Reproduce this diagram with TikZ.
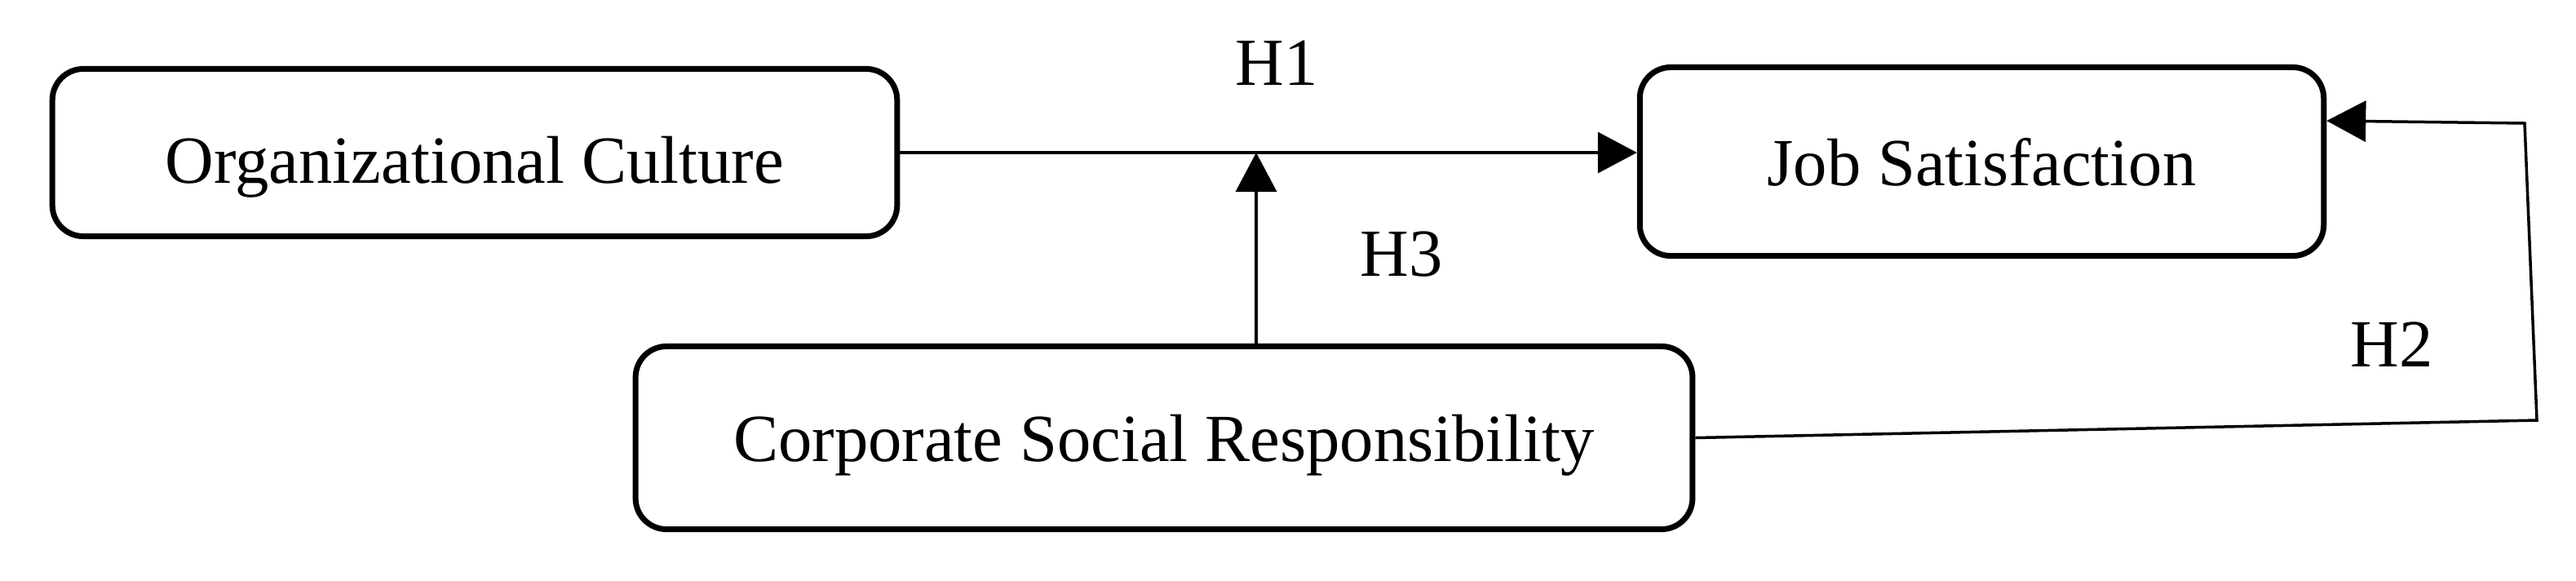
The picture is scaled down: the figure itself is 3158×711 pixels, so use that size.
\documentclass[tikz,border=0pt]{standalone}
\usepackage{fontspec}
\setmainfont{Liberation Serif}
\usetikzlibrary{arrows.meta}
\begin{document}
\begin{tikzpicture}[x=0.01cm,y=-0.01cm,
  font=\fontsize{23.5pt}{28pt}\selectfont,
  box/.style={draw=black, line width=0.07cm, rounded corners=0.38cm, rectangle, align=center, inner sep=0pt, text depth=0.2cm},
  conn/.style={draw=black, line width=0.035cm},
  arr/.style={conn, -{Triangle[length=0.48cm,width=0.5cm]}},
  lab/.style={inner sep=0pt, anchor=base}]
\useasboundingbox (0,0) rectangle (3158,711);
\fill[white] (0,0) rectangle (3158,711);
\node[box, minimum width=10.35cm, minimum height=2.05cm, text height=0.94cm] (oc) at (582,187) {Organizational Culture};
\node[box, minimum width=8.38cm, minimum height=2.31cm, text height=0.78cm] (js) at (2429.5,198) {Job Satisfaction};
\node[box, minimum width=12.95cm, minimum height=2.24cm, text height=0.77cm] (csr) at (1427,536.5) {Corporate Social Responsibility};
\coordinate (m) at (1540,187);
\coordinate (c1) at (3110,515);
\coordinate (c2) at (3095,151);
\coordinate (t) at (2950,148);
\draw[arr] (oc.east) -- (oc.east -| js.west);
\draw[arr] (m |- csr.north) -- (m);
\draw[arr] (csr.east) -- (c1) -- (c2) -- (js.east |- t);
\node[lab] (h1) at (1565,104) {H1};
\node[lab] (h3) at (1718,338) {H3};
\node[lab] (h2) at (2932,449) {H2};
\end{tikzpicture}
\end{document}
